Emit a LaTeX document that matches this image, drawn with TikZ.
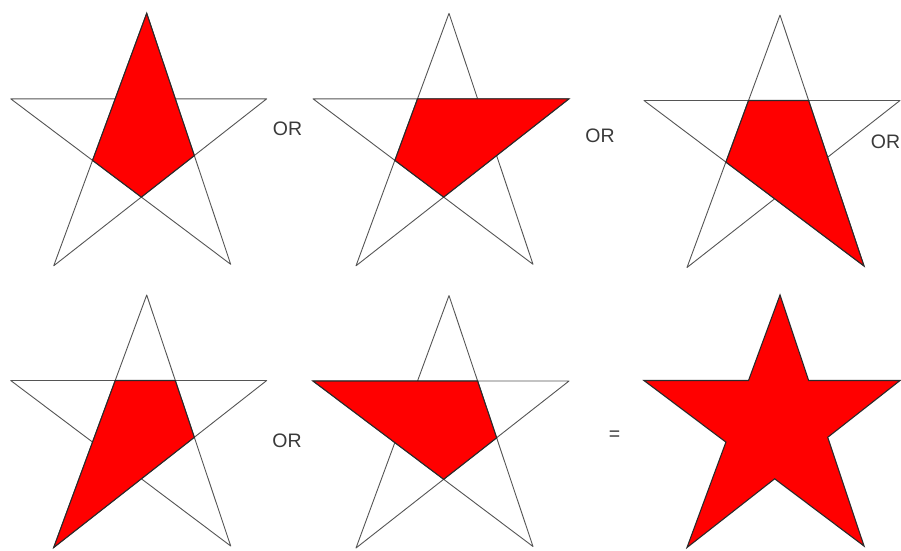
\documentclass[tikz,border=0pt]{standalone}
\usepackage{fontspec}
\setmainfont{Liberation Sans}
\definecolor{starline}{HTML}{555555}
\definecolor{starred}{HTML}{FF0000}
\definecolor{edgedark}{HTML}{2A2A2A}
\definecolor{labelgray}{HTML}{3A3A3A}
\newcommand\mkstar[3]{%
  \begin{scope}[shift={(#2,#3)}]
    \coordinate (#1T) at (0,0);
    \coordinate (#1L) at (-136,85.5);
    \coordinate (#1R) at (120,85.5);
    \coordinate (#1BL) at (-93,252.5);
    \coordinate (#1BR) at (84,251);
  \end{scope}
  \coordinate (#1IUL) at (intersection of #1T--#1BL and #1L--#1R);
  \coordinate (#1IUR) at (intersection of #1T--#1BR and #1L--#1R);
  \coordinate (#1IL) at (intersection of #1T--#1BL and #1L--#1BR);
  \coordinate (#1IR) at (intersection of #1T--#1BR and #1R--#1BL);
  \coordinate (#1IB) at (intersection of #1L--#1BR and #1R--#1BL);
}
\newcommand\outlinestar[1]{%
  \draw[pentaline] (#1T) -- (#1BL) (#1T) -- (#1BR) (#1L) -- (#1R)
    (#1L) -- (#1BR) (#1R) -- (#1BL);
}
\tikzset{
  pentaline/.style={draw=starline, line width=0.9pt, line cap=round},
  redpart/.style={fill=starred, draw=edgedark, line width=1.1pt, line join=miter},
  orlabel/.style={text=labelgray, font=\fontsize{19.5}{21}\selectfont, inner sep=0pt}
}
\begin{document}
\begin{tikzpicture}[x=1pt,y=-1pt]
\useasboundingbox[fill=white] (0,0) rectangle (901,550);
\mkstar{a}{146.7}{13.3}
\mkstar{b}{449}{13.3}
\mkstar{c}{780}{15}
\mkstar{d}{146.7}{295}
\mkstar{e}{449}{295.5}
\mkstar{f}{780}{295}
% star 1: top arm + centre
\outlinestar{a}
\draw[redpart] (aT) -- (aIR) -- (aIB) -- (aIL) -- cycle;
% star 2: right arm + centre
\outlinestar{b}
\draw[redpart] (bIUL) -- (bR) -- (bIB) -- (bIL) -- cycle;
% star 3: bottom-right arm + centre
\outlinestar{c}
\draw[redpart] (cIUL) -- (cIUR) -- (cBR) -- (cIL) -- cycle;
% star 4: bottom-left arm + centre
\outlinestar{d}
\draw[redpart] (dIUL) -- (dIUR) -- (dIR) -- (dBL) -- cycle;
% star 5: left arm + centre
\outlinestar{e}
\draw[redpart] (eL) -- (eIUR) -- (eIR) -- (eIB) -- cycle;
% star 6: full star
\draw[redpart] (fT) -- (fIUR) -- (fR) -- (fIR) -- (fBR) -- (fIB) -- (fBL) -- (fIL) -- (fL) -- (fIUL) -- cycle;
% labels
\node[orlabel] (or1) at (287.5,129) {OR};
\node[orlabel] (or2) at (600,135.5) {OR};
\node[orlabel] (or3) at (885.5,141.5) {OR};
\node[orlabel] (or4) at (287,441) {OR};
\node[orlabel] (eq) at (614.5,435.5) {=};
\end{tikzpicture}
\end{document}
